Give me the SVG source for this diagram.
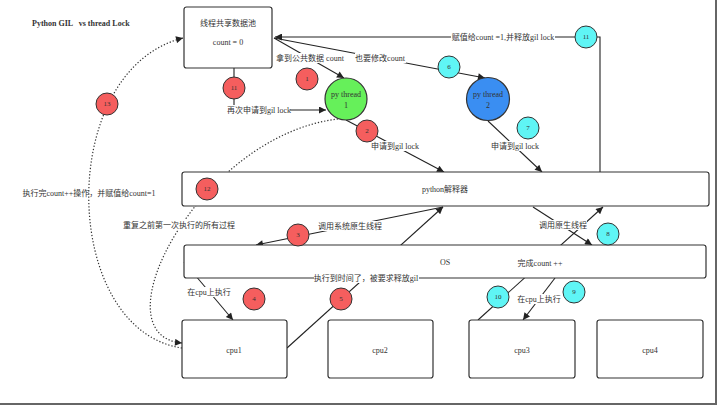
<svg xmlns="http://www.w3.org/2000/svg" width="720" height="407" viewBox="0 0 720 407">
<defs>
<marker id="ah" viewBox="0 0 10 10" refX="10" refY="5" markerWidth="9" markerHeight="7" markerUnits="userSpaceOnUse" orient="auto"><path d="M0,0 L10,5 L0,10 z" fill="#222"/></marker>
<style>
text{font-family:"Liberation Serif","Noto Sans CJK SC",serif;font-size:8px;fill:#333;text-anchor:middle;dominant-baseline:central}
.box{fill:#fff;stroke:#333;stroke-width:1.2}
.ln{fill:none;stroke:#222;stroke-width:1.1}
.dot{fill:none;stroke:#333;stroke-width:1.2;stroke-dasharray:1.3 1.9}
.bg{fill:#fff}
.red{fill:#f55e5e;stroke:#333;stroke-width:1}
.cyan{fill:#5ff5f5;stroke:#333;stroke-width:1}
.num{font-size:7px}
</style>
</defs>
<rect width="720" height="407" fill="#fff"/>
<line x1="716" y1="0" x2="716" y2="405" stroke="#666" stroke-width="2"/>
<line x1="0" y1="404" x2="717" y2="404" stroke="#666" stroke-width="2"/>
<text x="32" y="23" style="text-anchor:start;font-weight:bold;white-space:pre">Python GIL   vs thread Lock</text>

<g id="connectors">
<path class="ln" d="M600,172 V37 H275" marker-end="url(#ah)"/>
<path class="ln" d="M274,38 L344,78" marker-end="url(#ah)"/>
<path class="ln" d="M274,38 L485,78" marker-end="url(#ah)"/>
<path class="ln" d="M234,68 V110 H326" marker-end="url(#ah)"/>
<path class="ln" d="M346,120 L444,172" marker-end="url(#ah)"/>
<path class="ln" d="M488,121 L542,172" marker-end="url(#ah)"/>
<path class="ln" d="M443,207 L256,245" marker-end="url(#ah)"/>
<path class="ln" d="M533,207 L592,245" marker-end="url(#ah)"/>
<path class="ln" d="M184,262 L233,320" marker-end="url(#ah)"/>
<path class="ln" d="M287,348 L443,207" marker-end="url(#ah)"/>
<path class="ln" d="M478,320 L603,207" marker-end="url(#ah)"/>
<path class="ln" d="M555,278 L523,320" marker-end="url(#ah)"/>
<path class="dot" d="M338,119 C200,135 95,335 182,343" marker-end="url(#ah)"/>
<path class="dot" d="M182,348 C60,330 55,70 183,38" marker-end="url(#ah)"/>
</g>

<g id="shared-pool">
<rect class="box" x="184" y="7" width="88" height="61" rx="2.5"/>
<text x="228" y="23">线程共享数据池</text>
<text x="228" y="42">count = 0</text>
</g>
<g id="interpreter">
<rect class="box" x="182" y="172" width="527" height="34" rx="2.5"/>
<text x="445" y="189">python解释器</text>
</g>
<g id="os">
<rect class="box" x="184" y="245" width="522" height="33" rx="2.5"/>
<text x="445" y="262">OS</text>
</g>
<g id="cpu1"><rect class="box" x="182" y="320" width="105" height="58" rx="2.5"/><text x="234" y="350">cpu1</text></g>
<g id="cpu2"><rect class="box" x="328" y="320" width="105" height="58" rx="2.5"/><text x="380" y="350">cpu2</text></g>
<g id="cpu3"><rect class="box" x="469" y="320" width="106" height="58" rx="2.5"/><text x="522" y="350">cpu3</text></g>
<g id="cpu4"><rect class="box" x="597" y="320" width="106" height="58" rx="2.5"/><text x="650" y="350">cpu4</text></g>

<g id="labels">
<rect class="bg" x="451" y="32" width="104" height="10"/><text x="503" y="37">赋值给count =1,并释放gil lock</text>
<rect class="bg" x="277" y="53" width="67" height="10"/><text x="310" y="58">拿到公共数据 count</text>
<rect class="bg" x="355" y="53" width="51" height="10"/><text x="380" y="58">也要修改count</text>
<rect class="bg" x="228" y="105" width="62" height="10"/><text x="259" y="110">再次申请到gil lock</text>
<rect class="bg" x="372" y="141" width="47" height="10"/><text x="395" y="146">申请到gil lock</text>
<rect class="bg" x="492" y="141" width="47" height="10"/><text x="515" y="146">申请到gil lock</text>
<rect class="bg" x="318" y="221" width="64" height="10"/><text x="350" y="226">调用系统原生线程</text>
<rect class="bg" x="539" y="220" width="48" height="10"/><text x="563" y="225">调用原生线程</text>
<rect class="bg" x="188" y="287" width="43" height="10"/><text x="209" y="292">在cpu上执行</text>
<rect class="bg" x="314" y="273" width="105" height="10"/><text x="366" y="278">执行到时间了，被要求释放gil</text>
<rect class="bg" x="518" y="258" width="45" height="10"/><text x="540" y="263">完成count ++</text>
<rect class="bg" x="518" y="294" width="43" height="10"/><text x="539" y="299">在cpu上执行</text>
<rect class="bg" x="123" y="220" width="112" height="10"/><text x="179" y="225">重复之前第一次执行的所有过程</text>
<text x="89" y="193">执行完count++操作，并赋值给count=1</text>
</g>

<g id="thread1">
<circle cx="346" cy="99" r="21" fill="#66f05a" stroke="#333" stroke-width="1.2"/>
<text x="346" y="94">py thread</text><text x="346" y="105">1</text>
</g>
<g id="thread2">
<circle cx="488" cy="99" r="21.5" fill="#3a8ef2" stroke="#333" stroke-width="1.2"/>
<text x="488" y="94">py thread</text><text x="488" y="105">2</text>
</g>

<g id="step1"><circle class="red" cx="307" cy="79" r="11"/><text class="num" x="307" y="79">1</text></g>
<g id="step2"><circle class="red" cx="367" cy="131" r="11"/><text class="num" x="367" y="131">2</text></g>
<g id="step3"><circle class="red" cx="298" cy="235" r="11"/><text class="num" x="298" y="235">3</text></g>
<g id="step4"><circle class="red" cx="254" cy="299" r="11"/><text class="num" x="254" y="299">4</text></g>
<g id="step5"><circle class="red" cx="341" cy="299" r="11"/><text class="num" x="341" y="299">5</text></g>
<g id="step6"><circle class="cyan" cx="449" cy="67" r="11"/><text class="num" x="449" y="67">6</text></g>
<g id="step7"><circle class="cyan" cx="528" cy="128" r="11"/><text class="num" x="528" y="128">7</text></g>
<g id="step8"><circle class="cyan" cx="608" cy="234" r="11"/><text class="num" x="608" y="234">8</text></g>
<g id="step9"><circle class="cyan" cx="574" cy="292" r="11"/><text class="num" x="574" y="292">9</text></g>
<g id="step10"><circle class="cyan" cx="498" cy="297" r="11"/><text class="num" x="498" y="297">10</text></g>
<g id="step11a"><circle class="cyan" cx="586" cy="37" r="11"/><text class="num" x="586" y="37">11</text></g>
<g id="step11b"><circle class="red" cx="234" cy="88" r="11"/><text class="num" x="234" y="88">11</text></g>
<g id="step12"><circle class="red" cx="207" cy="189" r="11"/><text class="num" x="207" y="189">12</text></g>
<g id="step13"><circle class="red" cx="107" cy="104" r="11"/><text class="num" x="107" y="104">13</text></g>
</svg>
